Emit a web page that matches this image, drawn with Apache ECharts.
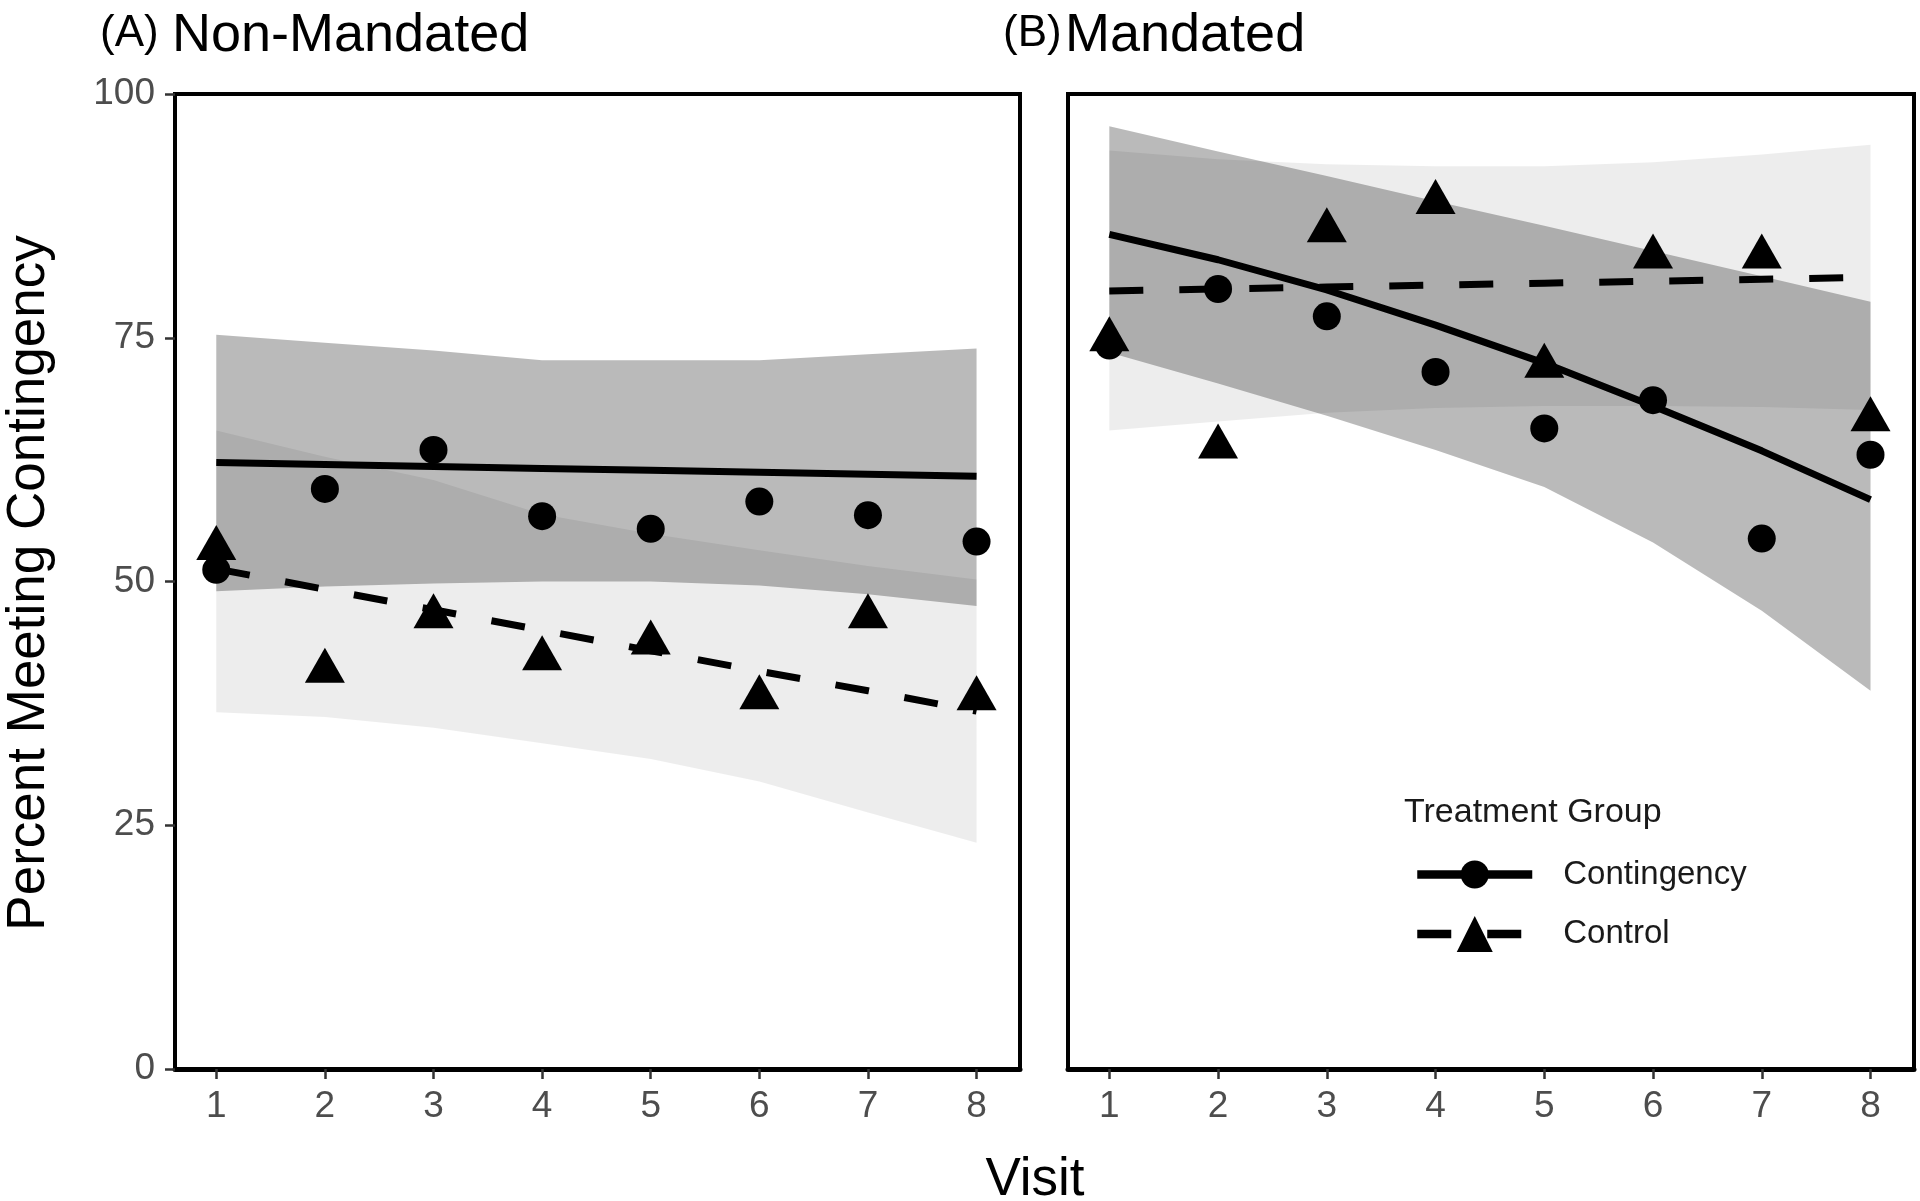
<!DOCTYPE html>
<html><head><meta charset="utf-8">
<script src="https://cdn.jsdelivr.net/npm/echarts@6/dist/echarts.min.js"></script>
<style>html,body{margin:0;padding:0;background:#fff}#chart{width:1920px;height:1201px}</style>
</head><body><div id="chart"></div>
<script>
const visits = [1, 2, 3, 4, 5, 6, 7, 8];
const xTicks = [1, 2, 3, 4, 5, 6, 7, 8];
const yTicks = [0, 25, 50, 75, 100];
const panelTags = ['(A)', '(B)'];
const panelTitles = ['Non-Mandated', 'Mandated'];
const groups = ['Contingency', 'Control'];
const legendTitle = 'Treatment Group';
const xTitle = 'Visit';
const yTitle = 'Percent Meeting Contingency';

// Panel A: Non-Mandated
const aContObs = [51.2, 59.5, 63.5, 56.7, 55.4, 58.2, 56.8, 54.1];
const aCtrlObs = [54.0, 41.4, 47.0, 42.7, 44.3, 38.7, 47.0, 38.6];
const aContFit = [62.2, 62.0, 61.8, 61.6, 61.4, 61.2, 61.0, 60.8];
const aCtrlFit = [51.3, 49.2, 47.1, 45.0, 42.9, 40.8, 38.8, 36.7];
const aContLo = [49.0, 49.5, 49.8, 50.0, 50.0, 49.6, 48.7, 47.5];
const aContHi = [75.3, 74.5, 73.7, 72.7, 72.7, 72.7, 73.3, 73.9];
const aCtrlLo = [36.6, 36.1, 35.0, 33.4, 31.8, 29.5, 26.3, 23.2];
const aCtrlHi = [65.5, 62.8, 60.4, 56.9, 54.9, 53.2, 51.6, 50.2];

// Panel B: Mandated
const bContObs = [74.2, 80.0, 77.2, 71.5, 65.7, 68.6, 54.4, 63.0];
const bCtrlObs = [75.4, 64.4, 86.6, 89.5, 72.7, 83.9, 83.9, 67.2];
const bContFit = [85.6, 83.0, 79.9, 76.3, 72.4, 68.0, 63.4, 58.4];
const bCtrlFit = [79.8, 80.0, 80.2, 80.4, 80.6, 80.8, 81.0, 81.2];
const bContLo = [73.5, 70.3, 67.0, 63.5, 59.7, 54.0, 47.0, 38.8];
const bContHi = [96.7, 94.1, 91.6, 89.0, 86.5, 83.9, 81.3, 78.7];
const bCtrlLo = [65.5, 66.4, 67.3, 67.8, 68.0, 68.0, 67.9, 67.6];
const bCtrlHi = [94.2, 93.3, 92.8, 92.6, 92.6, 93.0, 93.8, 94.8];

const FONT = '"Liberation Sans", Arial, Helvetica, sans-serif';
const DASH = [34, 36];

function pairs(ys) { return visits.map((v, i) => [v, ys[i]]); }

function ribbon(name, idx, lo, hi, fill) {
  return {
    type: 'custom', name: name, xAxisIndex: idx, yAxisIndex: idx, silent: true, z: 1, clip: true,
    data: [[visits[0], lo[0]]],
    renderItem: function (params, api) {
      const pts = visits.map((v, i) => api.coord([v, hi[i]]));
      for (let i = visits.length - 1; i >= 0; i--) pts.push(api.coord([visits[i], lo[i]]));
      return { type: 'polygon', shape: { points: pts }, style: { fill: fill } };
    }
  };
}
function fitLine(name, idx, ys, dashed) {
  return {
    type: 'line', name: name, xAxisIndex: idx, yAxisIndex: idx, data: pairs(ys),
    symbol: dashed ? 'triangle' : 'circle', showSymbol: false, z: 3, silent: true,
    emphasis: { disabled: true },
    itemStyle: { color: '#000' },
    lineStyle: { color: '#000', width: 7, type: dashed ? DASH : 'solid', cap: 'butt' }
  };
}
function points(name, idx, ys, tri) {
  return {
    type: 'scatter', name: name, xAxisIndex: idx, yAxisIndex: idx, data: pairs(ys),
    symbol: tri ? 'triangle' : 'circle', symbolSize: tri ? [40, 35] : 28, z: 4, silent: true,
    itemStyle: { color: '#000', opacity: 1 }
  };
}
function xAxis(idx) {
  return {
    type: 'value', gridIndex: idx, min: 0.62, max: 8.4,
    axisLine: { show: true, onZero: false, lineStyle: { color: '#000', width: 5 } },
    axisTick: { show: true, length: 10, customValues: xTicks, lineStyle: { color: '#333', width: 2.5 } },
    axisLabel: { customValues: xTicks, margin: 19, color: '#4d4d4d', fontSize: 37, fontFamily: FONT },
    splitLine: { show: false }
  };
}
function yAxis(idx, showLabels) {
  return {
    type: 'value', gridIndex: idx, min: yTicks[0], max: yTicks[yTicks.length - 1], interval: 25,
    axisLine: { show: false },
    axisTick: { show: showLabels, length: 10, lineStyle: { color: '#333', width: 2.5 } },
    axisLabel: { show: showLabels, margin: 20, color: '#4d4d4d', fontSize: 37, fontFamily: FONT },
    splitLine: { show: false }
  };
}
const gridStyle = { show: true, borderColor: '#000', borderWidth: 4, backgroundColor: 'transparent' };
const legendText = { fontSize: 33, fontFamily: FONT, color: '#1a1a1a', padding: [0, 0, 0, 26] };

const option = {
  animation: false,
  backgroundColor: '#fff',
  grid: [
    Object.assign({ left: 175, right: 900, top: 94, bottom: 132 }, gridStyle),
    Object.assign({ left: 1068, right: 6, top: 94, bottom: 132 }, gridStyle)
  ],
  xAxis: [xAxis(0), xAxis(1)],
  yAxis: [yAxis(0, true), yAxis(1, false)],
  legend: [
    {
      data: [groups[0]], orient: 'vertical', left: 1408, top: 853, itemWidth: 115, itemHeight: 35,
      selectedMode: false, lineStyle: { width: 8.5 }, textStyle: legendText
    },
    {
      data: [groups[1]], orient: 'vertical', left: 1408, top: 911, itemWidth: 115, itemHeight: 45,
      selectedMode: false, lineStyle: { width: 8.5 }, textStyle: legendText
    }
  ],
  graphic: [
    { type: 'text', x: 100, y: 34, style: { text: panelTags[0], font: '44px ' + FONT, fill: '#000', textAlign: 'left', textVerticalAlign: 'middle' } },
    { type: 'text', x: 172, y: 36, style: { text: panelTitles[0], font: '54px ' + FONT, fill: '#000', textAlign: 'left', textVerticalAlign: 'middle' } },
    { type: 'text', x: 1003, y: 34, style: { text: panelTags[1], font: '44px ' + FONT, fill: '#000', textAlign: 'left', textVerticalAlign: 'middle' } },
    { type: 'text', x: 1065, y: 36, style: { text: panelTitles[1], font: '54px ' + FONT, fill: '#000', textAlign: 'left', textVerticalAlign: 'middle' } },
    { type: 'text', x: 29, y: 583, rotation: Math.PI / 2, style: { text: yTitle, font: '53px ' + FONT, fill: '#000', textAlign: 'center', textVerticalAlign: 'middle' } },
    { type: 'text', x: 1035, y: 1180, style: { text: xTitle, font: '53px ' + FONT, fill: '#000', textAlign: 'center', textVerticalAlign: 'middle' } },
    { type: 'text', x: 1404, y: 813, style: { text: legendTitle, font: '34px ' + FONT, fill: '#1a1a1a', textAlign: 'left', textVerticalAlign: 'middle' } }
  ],
  series: [
    fitLine(groups[0], 0, aContFit, false),
    fitLine(groups[1], 0, aCtrlFit, true),
    fitLine(groups[0], 1, bContFit, false),
    fitLine(groups[1], 1, bCtrlFit, true),
    ribbon('ci-a-ctrl', 0, aCtrlLo, aCtrlHi, 'rgba(0,0,0,0.07)'),
    ribbon('ci-a-cont', 0, aContLo, aContHi, 'rgba(0,0,0,0.27)'),
    ribbon('ci-b-ctrl', 1, bCtrlLo, bCtrlHi, 'rgba(0,0,0,0.07)'),
    ribbon('ci-b-cont', 1, bContLo, bContHi, 'rgba(0,0,0,0.27)'),
    points(groups[0], 0, aContObs, false),
    points(groups[1], 0, aCtrlObs, true),
    points(groups[0], 1, bContObs, false),
    points(groups[1], 1, bCtrlObs, true)
  ]
};
const chart = echarts.init(document.getElementById('chart'), null, { renderer: 'canvas' });
chart.setOption(option);
</script>
</body></html>
